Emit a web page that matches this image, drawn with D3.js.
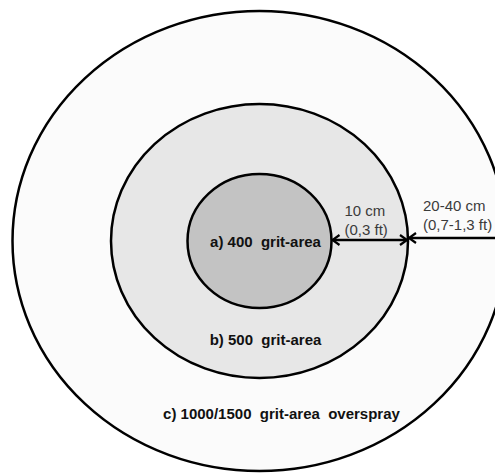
<!DOCTYPE html>
<html>
<head>
<meta charset="utf-8">
<script src="https://cdn.jsdelivr.net/npm/d3@7"></script>
<style>
  body { margin: 0; background: #fff; }
  svg { display: block; }
</style>
</head>
<body>
<div id="chart"></div>
<script>
const width = 495;
const height = 473;

// zones from outside to inside (radius in drawing units, horizontal / vertical)
const zoneLabels = ["c) 1000/1500  grit-area  overspray", "b) 500  grit-area", "a) 400  grit-area"];
const zoneRx = [247, 148.5, 72];
const zoneRy = [230, 137, 67];
const zoneFill = ["#fbfbfb", "#e7e7e7", "#c3c3c3"];
// label offset from centre, in same units
const labelDx = [22, 6, 6];
const labelDy = [174, 100, 2];

// distance annotations
const distTop = ["10 cm", "20-40 cm"];
const distBottom = ["(0,3 ft)", "(0,7-1,3 ft)"];

const cx = 259.5, cy = 241;
const x = d3.scaleLinear().domain([0, 1]).range([cx, cx + 1]);
const y = d3.scaleLinear().domain([0, 1]).range([cy, cy + 1]);

const svg = d3.select("#chart").append("svg")
    .attr("width", width)
    .attr("height", height);

const defs = svg.append("defs");
["start", "end"].forEach(k => {
    defs.append("marker")
        .attr("id", "arr-" + k)
        .attr("viewBox", "0 0 12 12")
        .attr("refX", k == "end" ? 10 : 2)
        .attr("refY", 6)
        .attr("markerWidth", 12)
        .attr("markerHeight", 12)
        .attr("markerUnits", "userSpaceOnUse")
        .attr("orient", "auto")
      .append("path")
        .attr("d", k == "end" ? "M3,1 L10,6 L3,11" : "M9,1 L2,6 L9,11")
        .attr("fill", "none")
        .attr("stroke", "#000")
        .attr("stroke-width", 2.2);
});

svg.selectAll("ellipse.zone")
    .data(zoneRx)
    .join("ellipse")
    .attr("class", "zone")
    .attr("cx", x(0))
    .attr("cy", y(0))
    .attr("rx", d => x(d) - x(0))
    .attr("ry", (d, i) => y(zoneRy[i]) - y(0))
    .attr("fill", (d, i) => zoneFill[i])
    .attr("stroke", "#000")
    .attr("stroke-width", 2.5);

svg.selectAll("text.zone")
    .data(zoneLabels)
    .join("text")
    .attr("class", "zone")
    .attr("x", (d, i) => x(labelDx[i]))
    .attr("y", (d, i) => y(labelDy[i]))
    .attr("text-anchor", "middle")
    .attr("dominant-baseline", "middle")
    .attr("font-family", "Liberation Sans, Arial, sans-serif")
    .attr("font-weight", "bold")
    .attr("font-size", "15px")
    .attr("fill", "#111")
    .style("white-space", "pre")
    .text(d => d);

// arrows between ring edges: inner->middle, middle->outer
const arrowY = [-1, -3];
const topDy = [-25.5, -30.5];
const bottomDy = [-6, -11];
[0, 1].forEach(i => {
    const from = zoneRx[2 - i];
    const to = zoneRx[1 - i];
    svg.append("line")
        .attr("x1", x(from) + 1)
        .attr("x2", x(to) - 1)
        .attr("y1", y(arrowY[i]))
        .attr("y2", y(arrowY[i]))
        .attr("stroke", "#000")
        .attr("stroke-width", 2.5)
        .attr("marker-start", "url(#arr-start)")
        .attr("marker-end", "url(#arr-end)");
    const lx = x(from) + (i == 0 ? 13 : 15);
    svg.append("text")
        .attr("x", lx)
        .attr("y", y(topDy[i]))
        .attr("font-family", "Liberation Sans, Arial, sans-serif")
        .attr("font-size", "15px")
        .attr("fill", "#3b3b3b")
        .text(distTop[i]);
    svg.append("text")
        .attr("x", lx)
        .attr("y", y(bottomDy[i]))
        .attr("font-family", "Liberation Sans, Arial, sans-serif")
        .attr("font-size", "15px")
        .attr("fill", "#3b3b3b")
        .text(distBottom[i]);
});
</script>
</body>
</html>
